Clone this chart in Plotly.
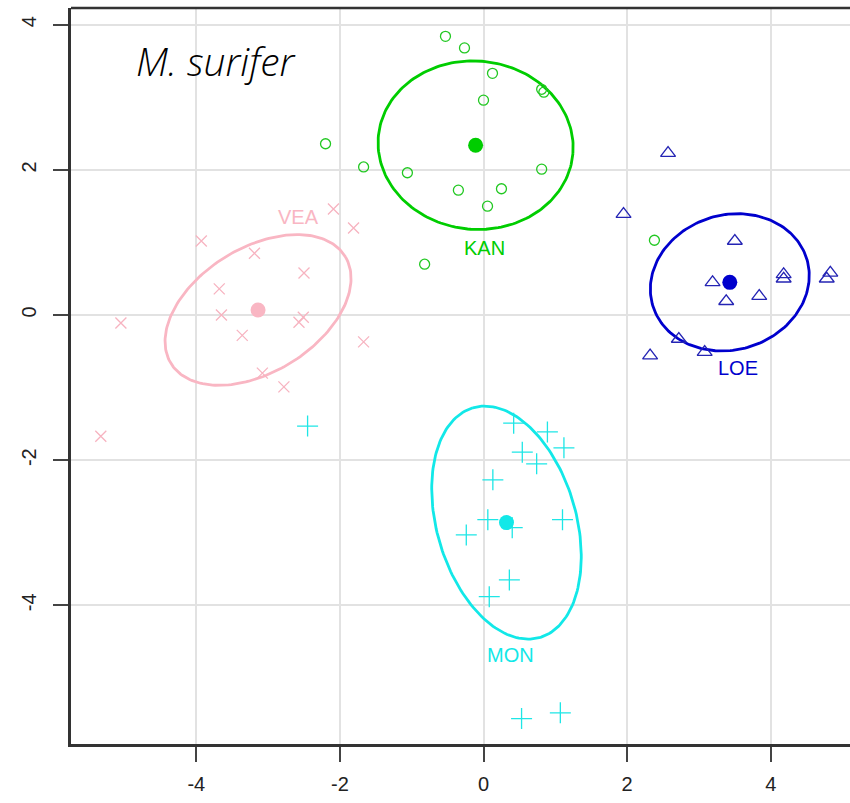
import numpy as np
import plotly.graph_objects as go

# ---------------- data ----------------
groups = ["KAN", "LOE", "VEA", "MON"]

kan_x = [-0.53, -0.265, 0.125, 0.0, 0.81, 0.84, -2.20, -1.67, -1.06, -0.35, 0.25, 0.056, 0.81, -0.82, 2.38]
kan_y = [3.84, 3.68, 3.33, 2.96, 3.11, 3.07, 2.36, 2.04, 1.96, 1.72, 1.74, 1.50, 2.01, 0.70, 1.03]

loe_x = [2.57, 1.95, 3.50, 3.19, 3.38, 3.84, 4.18, 4.18, 4.83, 4.78, 2.72, 2.32, 3.08]
loe_y = [2.23, 1.39, 1.02, 0.45, 0.19, 0.26, 0.56, 0.50, 0.58, 0.50, -0.33, -0.56, -0.51]

vea_x = [-2.09, -1.81, -3.93, -3.19, -2.50, -3.68, -3.65, -2.51, -2.57, -5.05, -3.36, -1.67, -3.08, -2.78, -5.33]
vea_y = [1.46, 1.20, 1.02, 0.85, 0.58, 0.36, 0.00, -0.03, -0.10, -0.11, -0.28, -0.37, -0.80, -0.99, -1.67]

mon_x = [0.42, 0.89, 1.12, 0.54, 0.74, 0.13, 0.06, 0.40, 1.10, -0.24, 0.36, 0.08, 0.53, 1.07, -2.45]
mon_y = [-1.49, -1.61, -1.83, -1.89, -2.05, -2.27, -2.82, -2.93, -2.82, -3.03, -3.65, -3.88, -5.56, -5.48, -1.53]

# group centroids
cent_x = [-0.11, 3.43, -3.14, 0.32]
cent_y = [2.34, 0.45, 0.07, -2.86]

# ellipse parameters: semi-major, semi-minor, angle (deg)
ell_a = [1.36, 1.12, 1.42, 1.65]
ell_b = [1.16, 0.93, 0.86, 0.97]
ell_ang = [-5, 16, 31, 106.5]

# group label positions
lab_x = [0.01, 3.54, -2.58, 0.37]
lab_y = [0.92, -0.73, 1.35, -4.68]

x_ticks = [-4, -2, 0, 2, 4]
y_ticks = [-4, -2, 0, 2, 4]

title_text = "M. surifer"

# ---------------- style ----------------
colors = {"KAN": "#00CD00", "LOE": "#0000CD", "VEA": "#F9B6C3", "MON": "#12E8E8"}
pt_colors = {"KAN": "#22C822", "LOE": "#2424B4", "VEA": "#F7B3C0", "MON": "#1EE6E6"}
symbols = {"KAN": "circle-open", "LOE": "triangle-up-open", "VEA": "x-thin-open", "MON": "cross-thin-open"}
sizes = {"KAN": 10, "LOE": 13, "VEA": 11, "MON": 15}

pts = {"KAN": (kan_x, kan_y), "LOE": (loe_x, loe_y), "VEA": (vea_x, vea_y), "MON": (mon_x, mon_y)}

fig = go.Figure()

t = np.linspace(0, 2 * np.pi, 200)
for i, g in enumerate(groups):
    th = np.deg2rad(ell_ang[i])
    ex = cent_x[i] + ell_a[i] * np.cos(t) * np.cos(th) - ell_b[i] * np.sin(t) * np.sin(th)
    ey = cent_y[i] + ell_a[i] * np.cos(t) * np.sin(th) + ell_b[i] * np.sin(t) * np.cos(th)
    fig.add_trace(go.Scatter(x=ex, y=ey, mode="lines",
                             line=dict(color=colors[g], width=2.8),
                             hoverinfo="skip", showlegend=False))

for i, g in enumerate(groups):
    px_, py_ = pts[g]
    fig.add_trace(go.Scatter(x=px_, y=py_, mode="markers", name=g,
                             marker=dict(symbol=symbols[g], size=sizes[g],
                                         color=pt_colors[g],
                                         line=dict(color=pt_colors[g], width=1.3)),
                             showlegend=False))

for i, g in enumerate(groups):
    fig.add_trace(go.Scatter(x=[cent_x[i]], y=[cent_y[i]], mode="markers",
                             marker=dict(symbol="circle", size=15, color=colors[g]),
                             showlegend=False))
    fig.add_annotation(x=lab_x[i], y=lab_y[i], text=g, showarrow=False,
                       font=dict(family="Liberation Sans, Arial", size=20, color=colors[g]))

fig.add_annotation(x=0.081, y=0.929, xref="paper", yref="paper", text=title_text,
                   showarrow=False, xanchor="left", yanchor="middle",
                   font=dict(family="Open Sans", size=39, color="black", style="italic", weight=350))

# top border
fig.add_shape(type="line", xref="paper", yref="paper", x0=0, x1=1, y0=1, y1=1,
              line=dict(color="#333333", width=2.5))

fig.update_xaxes(range=[-5.745, 5.104], tickvals=x_ticks, ticktext=[str(v) for v in x_ticks],
                 showgrid=True, gridcolor="#E2E2E2", gridwidth=1.5, zeroline=False,
                 showline=True, linecolor="#333333", linewidth=2.5,
                 ticks="outside", ticklen=15, tickwidth=1.5, tickcolor="#444444",
                 ticklabelstandoff=5,
                 tickfont=dict(family="Liberation Sans, Arial", size=20, color="#222222"))
fig.update_yaxes(range=[-5.91, 4.23], tickvals=y_ticks, ticktext=[str(v) for v in y_ticks],
                 showgrid=True, gridcolor="#E2E2E2", gridwidth=1.5, zeroline=False,
                 showline=True, linecolor="#333333", linewidth=2.5,
                 ticks="outside", ticklen=15, tickwidth=1.5, tickcolor="#444444",
                 tickangle=-90, ticklabelstandoff=9,
                 tickfont=dict(family="Liberation Sans, Arial", size=20, color="#222222"))

fig.update_layout(width=850, height=803, margin=dict(l=71, r=0, t=8, b=59),
                  plot_bgcolor="white", paper_bgcolor="white")

fig.write_html("out.html")
